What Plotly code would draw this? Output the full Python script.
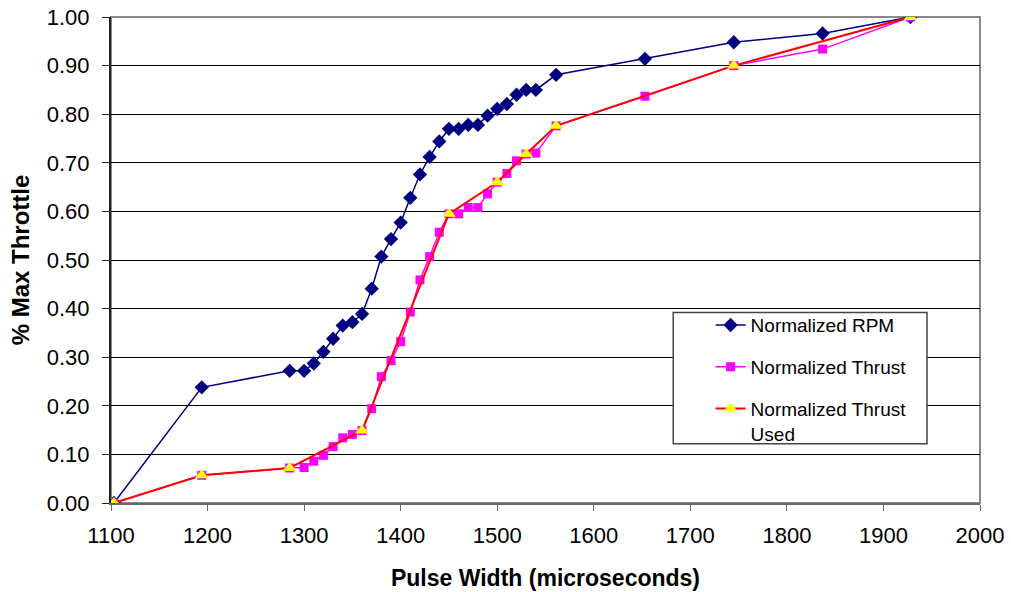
import plotly.graph_objects as go

rpm_x = [1103, 1194, 1285, 1300, 1310, 1320, 1330, 1340, 1350, 1360, 1370, 1380, 1390,
         1400, 1410, 1420, 1430, 1440, 1450, 1460, 1470, 1480, 1490, 1500, 1510, 1520,
         1530, 1540, 1561, 1653, 1745, 1837, 1928]
rpm_y = [0.00, 0.238, 0.272, 0.272, 0.287, 0.311, 0.338, 0.365, 0.372, 0.389, 0.441,
         0.507, 0.543, 0.577, 0.628, 0.676, 0.712, 0.744, 0.770, 0.770, 0.778, 0.778,
         0.797, 0.811, 0.821, 0.840, 0.850, 0.850, 0.881, 0.914, 0.948, 0.966, 1.00]

thrust_x = rpm_x
thrust_y = [0.00, 0.057, 0.072, 0.073, 0.086, 0.098, 0.116, 0.134, 0.141, 0.149, 0.194,
            0.260, 0.293, 0.332, 0.393, 0.459, 0.507, 0.557, 0.595, 0.595, 0.608, 0.608,
            0.636, 0.660, 0.678, 0.704, 0.718, 0.720, 0.776, 0.837, 0.900, 0.934, 1.00]

used_x = [1103, 1194, 1285, 1360, 1450, 1500, 1530, 1561, 1745, 1928]
used_y = [0.00, 0.057, 0.072, 0.149, 0.595, 0.660, 0.718, 0.776, 0.900, 1.00]

x_ticks = [1100, 1200, 1300, 1400, 1500, 1600, 1700, 1800, 1900, 2000]
y_ticks = [round(i * 0.1, 1) for i in range(11)]

FONT = "Liberation Sans, Arial, sans-serif"

fig = go.Figure()
fig.add_trace(go.Scatter(
    x=rpm_x, y=rpm_y, mode="lines+markers", name="Normalized RPM", legendgroup="a",
    line=dict(color="#000080", width=1.5),
    marker=dict(symbol="diamond", size=11, color="#000080"),
))
fig.add_trace(go.Scatter(
    x=thrust_x, y=thrust_y, mode="lines+markers", name="Normalized Thrust", legendgroup="b",
    line=dict(color="#FF00FF", width=1.5),
    marker=dict(symbol="square", size=9, color="#FF00FF"),
))
fig.add_trace(go.Scatter(
    x=used_x, y=used_y, mode="lines+markers", name="Normalized Thrust<br>Used", legendgroup="c",
    line=dict(color="#FF0000", width=2),
    marker=dict(symbol="triangle-up", size=12, color="#FFFF00"),
))

fig.update_layout(
    width=1011, height=592,
    margin=dict(l=111, r=31, t=17, b=89),
    paper_bgcolor="white", plot_bgcolor="white",
    font=dict(family=FONT, size=22, color="black"),
    showlegend=True,
    legend=dict(
        x=0.69, y=0.405, xanchor="left", yanchor="top",
        bgcolor="rgba(0,0,0,0)", borderwidth=0,
        font=dict(family=FONT, size=19), valign="top",
        traceorder="grouped", tracegroupgap=14,
    ),
    xaxis=dict(
        range=[1100, 2000], tickvals=x_ticks, ticktext=[str(v) for v in x_ticks],
        ticks="outside", ticklen=6, tickcolor="#666", showgrid=False,
        showline=True, linecolor="#666", linewidth=2, mirror=False,
        ticklabelstandoff=6, automargin=False,
        title=dict(text="<b>Pulse Width (microseconds)</b>", standoff=22,
                   font=dict(size=23)),
        zeroline=False,
    ),
    yaxis=dict(
        range=[0, 1.0], tickvals=y_ticks, ticktext=[f"{v:.2f}" for v in y_ticks],
        ticks="outside", ticklen=7, tickcolor="#222", showgrid=True,
        gridcolor="black", gridwidth=1,
        showline=True, linecolor="#222", linewidth=2,
        ticklabelstandoff=8, automargin=False,
        title=dict(text="<b>% Max Throttle</b>", standoff=10, font=dict(size=24)),
        zeroline=False,
    ),
)

# gray plot-area border on top/right
fig.add_shape(type="rect", xref="paper", yref="paper", x0=0, y0=0, x1=1, y1=1,
              line=dict(color="#888", width=2), layer="below")
# legend box
fig.add_shape(type="rect", xref="paper", yref="paper", x0=0.647, y0=0.122, x1=0.939, y1=0.392,
              line=dict(color="#444", width=1.5), fillcolor="white", layer="above")

fig.write_html("out.html")
